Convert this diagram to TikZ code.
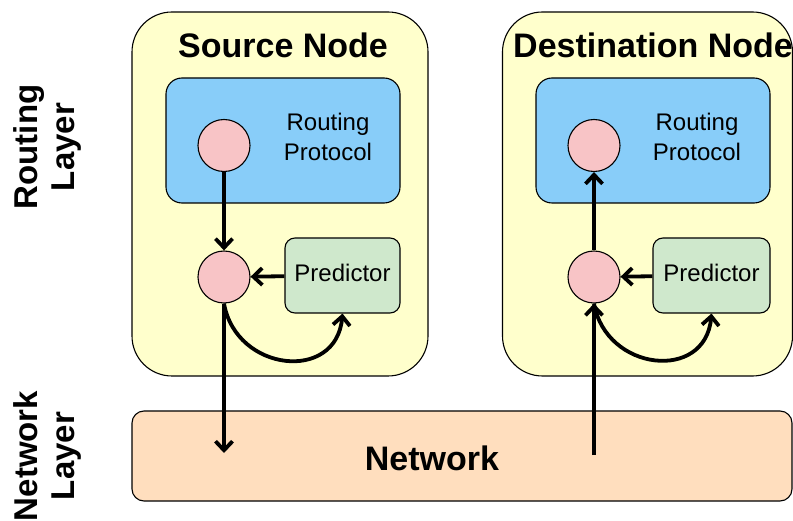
\documentclass[tikz,border=0pt]{standalone}
\usepackage{fontspec}
\setmainfont{Liberation Sans}
\usetikzlibrary{arrows.meta,positioning}
\definecolor{nodeyellow}{HTML}{FFFFCC}
\definecolor{protoblue}{HTML}{88CDF9}
\definecolor{dotpink}{HTML}{F8C4C6}
\definecolor{predgreen}{HTML}{CFE8CC}
\definecolor{netpeach}{HTML}{FFDEBE}
\tikzset{
  nodebox/.style={draw, fill=nodeyellow, line width=1.1pt, rounded corners=40pt, minimum width=296pt, minimum height=364pt},
  protobox/.style={draw, fill=protoblue, line width=1.1pt, rounded corners=16pt, minimum width=234pt, minimum height=125pt},
  predbox/.style={draw, fill=predgreen, line width=1.1pt, rounded corners=10pt, minimum width=115pt, minimum height=75pt, text depth=6pt, font=\fontsize{24}{30}\selectfont},
  dot/.style={circle, draw, fill=dotpink, line width=1.1pt, minimum size=52pt, inner sep=0pt},
  flow/.style={line width=3.8pt, -{Straight Barb[length=9pt,width=17pt,line width=3.8pt]}},
  bigtitle/.style={font=\fontsize{34}{40}\selectfont\bfseries, anchor=base},
  layertext/.style={font=\fontsize{33}{37}\selectfont\bfseries, rotate=90, align=center}
}
\begin{document}
\begin{tikzpicture}[x=1pt,y=1pt]
        \useasboundingbox (0,0) rectangle (793,-521);
        % Knoten
        \node[nodebox] (srcbox) at (280,-194) {};
        \node[nodebox, minimum width=290pt] (dstbox) at (647.5,-194) {};
        \node[bigtitle] (srctitle) at (283,-58) {Source Node};
        \node[bigtitle] (dsttitle) at (653,-58) {Destination Node};
        % Netz
        \node[draw, fill=netpeach, line width=1.1pt, rounded corners=12pt, minimum width=660pt, minimum height=90pt] (netbox) at (462,-456) {};
        \node[bigtitle] (nettitle) at (432,-470) {Network};
        % Schichten
        \node[layertext] (routlayer) at (47,-147) {Routing\\Layer};
        \node[layertext] (netlayer) at (47,-456) {Network\\Layer};
        % Quelle
        \node[protobox] (srcproto) at (283,-140.5) {};
        \node[align=center, font=\fontsize{24}{30}\selectfont] (srcprototext) at (328,-137) {Routing\\Protocol};
        \node[dot] (srctop) at (224,-145.5) {};
        \node[dot] (srcmid) at (224,-277) {};
        \node[predbox] (srcpred) at (342.5,-275.5) {Predictor};
        \coordinate (srcdown) at (224,-453);
        \draw[flow] (srctop) -- (srcmid);
        \draw[flow] (srcpred) -- (srcmid);
        \draw[flow] (srcmid.south) -- (srcdown);
        \draw[flow] (srcmid.south) to[out=-80, in=-95, looseness=1.5] (srcpred.south);
        % Ziel
        \node[protobox] (dstproto) at (653,-140.5) {};
        \node[align=center, font=\fontsize{24}{30}\selectfont] (dstprototext) at (697,-137) {Routing\\Protocol};
        \node[dot] (dsttop) at (594,-145.5) {};
        \node[dot] (dstmid) at (594,-277) {};
        \node[predbox, minimum width=117pt] (dstpred) at (711.5,-275.5) {Predictor};
        \coordinate (dstup) at (594,-455);
        \draw[flow] (dstmid) -- (dsttop);
        \draw[flow] (dstpred) -- (dstmid);
        \draw[flow] (dstup) -- (dstmid.south);
        \draw[flow] (dstmid.south) to[out=-80, in=-95, looseness=1.5] (dstpred.south);
    \end{tikzpicture}
\end{document}
